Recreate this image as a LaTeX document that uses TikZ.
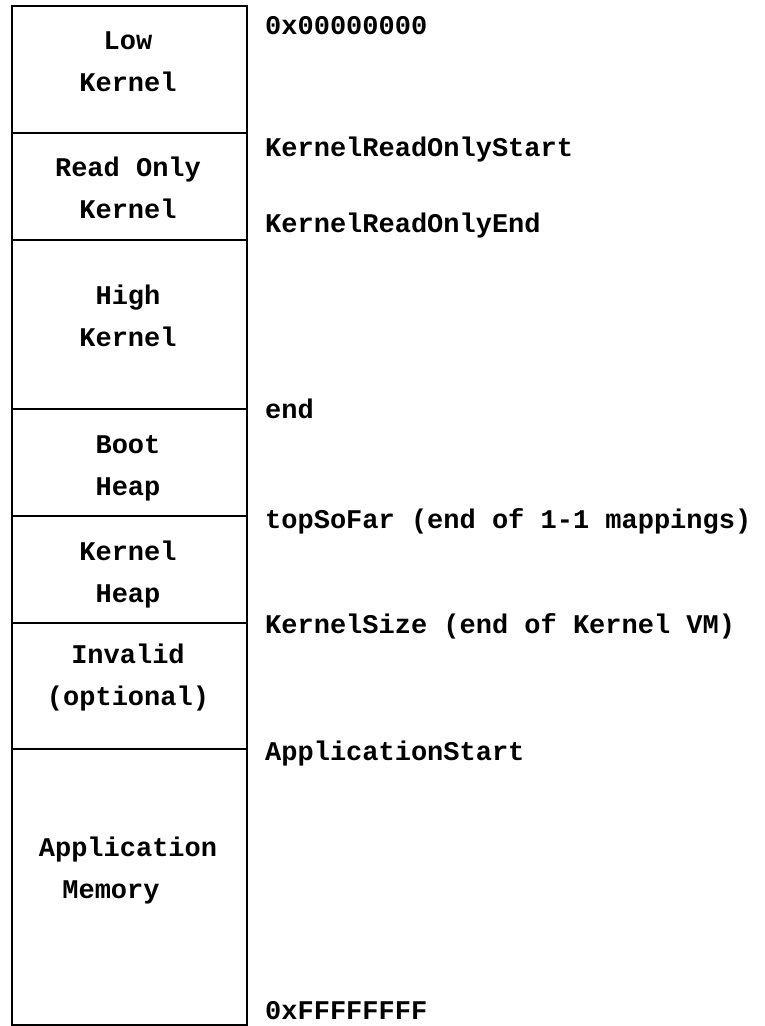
\documentclass[tikz,border=0pt]{standalone}
\usepackage{fontspec}
\setmonofont{Liberation Mono}
\usetikzlibrary{positioning}
\tikzset{
  region/.style={draw, line width=2pt, minimum width=235pt, inner sep=0pt, outer sep=0pt},
  regtext/.style={align=center, inner sep=0pt, execute at begin node=\strut, execute at end node=\strut},
  addr/.style={anchor=base west, inner sep=0pt}
}

\begin{document}
\begin{tikzpicture}[x=1pt, y=-1pt, font=\ttfamily\bfseries\fontsize{27}{42}\selectfont]
    \useasboundingbox (0,0) rectangle (764,1026);
    % the regions, stacked from the lowest address down
    \node [region, minimum height=127pt] (lowk) at (129.5,69.5) {};
    \node [region, minimum height=107pt, below=0pt of lowk] (rok) {};
    \node [region, minimum height=169pt, below=0pt of rok] (highk) {};
    \node [region, minimum height=107pt, below=0pt of highk] (bootheap) {};
    \node [region, minimum height=107pt, below=0pt of bootheap] (kheap) {};
    \node [region, minimum height=126pt, below=0pt of kheap] (invalid) {};
    \node [region, minimum height=276pt, below=0pt of invalid] (appmem) {};
    % names inside the regions
    \node [regtext] (lowkt) at (128,68) {Low\\Kernel};
    \node [regtext] (rokt) at (128,194) {Read Only\\Kernel};
    \node [regtext] (highkt) at (128,322.5) {High\\Kernel};
    \node [regtext] (bootheapt) at (128,472) {Boot\\Heap};
    \node [regtext] (kheapt) at (128,578.5) {Kernel\\Heap};
    \node [regtext] (invalidt) at (128,681) {Invalid\\(optional)};
    \node [regtext] (appmemt) at (128,874.5) {Application\\\hspace*{-34pt}Memory};
    % addresses on the right
    \node [addr] (amin) at (265,34) {0x00000000};
    \node [addr] (rostart) at (265,156) {KernelReadOnlyStart};
    \node [addr] (roend) at (265,232) {KernelReadOnlyEnd};
    \node [addr] (kend) at (265,418) {end};
    \node [addr] (topsofar) at (265,528) {topSoFar (end of 1-1 mappings)};
    \node [addr] (ksize) at (265,633) {KernelSize (end of Kernel VM)};
    \node [addr] (appstart) at (265,760) {ApplicationStart};
    \node [addr] (amax) at (265,1019) {0xFFFFFFFF};
\end{tikzpicture}
\end{document}
